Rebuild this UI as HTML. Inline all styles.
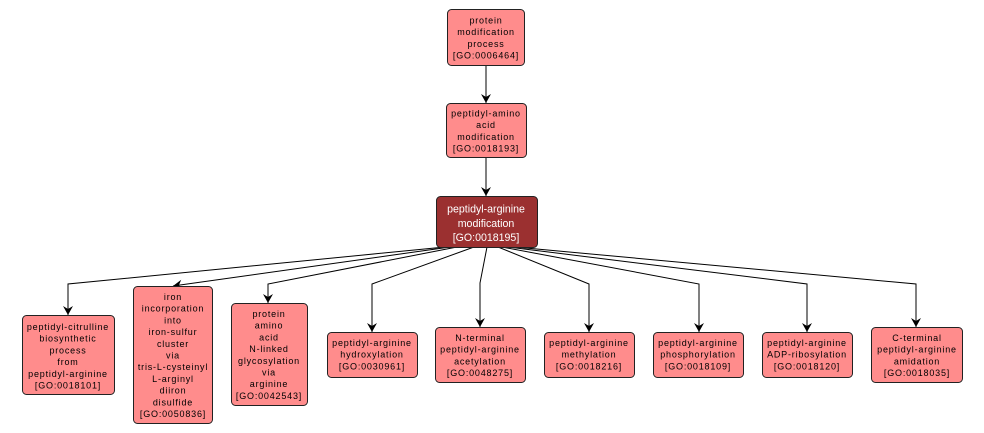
<!DOCTYPE html>
<html><head><meta charset="utf-8"><style>
html,body{margin:0;padding:0;background:#fff;}
svg{display:block;}
text{font-family:"Liberation Sans",Arial,sans-serif;}
.l{font-size:9px;letter-spacing:0.8px;fill:#000;text-anchor:middle;}
.d{font-size:10.6px;fill:#fff;text-anchor:middle;}
.n{fill:#ff8c8c;stroke:#222;stroke-width:1;}
.nd{fill:#9b3030;stroke:#222;stroke-width:1;}
.e{fill:none;stroke:#000;stroke-width:1;}
</style></head><body>
<svg width="984" height="433" viewBox="0 0 984 433" xmlns="http://www.w3.org/2000/svg">
<defs>
<marker id="a" markerUnits="userSpaceOnUse" markerWidth="12" markerHeight="12" refX="0" refY="0" viewBox="-10 -6 12 12" orient="auto">
<path d="M0,0 L-9,-5 L-6,0 L-9,5 Z" fill="#000"/>
</marker>
</defs>
<!-- edges -->
<polyline class="e" points="486,65 486,103" marker-end="url(#a)"/>
<polyline class="e" points="486,157 486,196" marker-end="url(#a)"/>
<polyline class="e" points="445,247 68,284 68,315" marker-end="url(#a)"/>
<polyline class="e" points="450,247 173,286" marker-end="url(#a)"/>
<polyline class="e" points="457,247 268,284 268,303" marker-end="url(#a)"/>
<polyline class="e" points="474,247 372,284 372,332" marker-end="url(#a)"/>
<polyline class="e" points="487,247 480,283 480,327" marker-end="url(#a)"/>
<polyline class="e" points="498,247 589,284 589,332" marker-end="url(#a)"/>
<polyline class="e" points="502,247 699,284 699,332" marker-end="url(#a)"/>
<polyline class="e" points="508,247 807,284 807,332" marker-end="url(#a)"/>
<polyline class="e" points="515,247 916,284 916,327" marker-end="url(#a)"/>

<!-- node 1 -->
<rect class="n" x="447.5" y="9.5" width="77" height="56" rx="4"/>
<text class="l" x="486" y="23.5">protein</text>
<text class="l" x="486" y="35.2">modification</text>
<text class="l" x="486" y="46.9">process</text>
<text class="l" x="486" y="58.6">[GO:0006464]</text>

<!-- node 2 -->
<rect class="n" x="446.5" y="103.5" width="80" height="54" rx="4"/>
<text class="l" x="486" y="116.5">peptidyl-amino</text>
<text class="l" x="486" y="128.2">acid</text>
<text class="l" x="486" y="139.9">modification</text>
<text class="l" x="486" y="151.6">[GO:0018193]</text>

<!-- node 3 -->
<rect class="nd" x="436.5" y="196.5" width="101" height="51" rx="4"/>
<text class="d" x="486" y="212.5">peptidyl-arginine</text>
<text class="d" x="486" y="226.8">modification</text>
<text class="d" x="486" y="241.1">[GO:0018195]</text>

<!-- A -->
<rect class="n" x="22.5" y="315.5" width="92" height="79" rx="4"/>
<text class="l" x="68" y="330">peptidyl-citrulline</text>
<text class="l" x="68" y="341.7">biosynthetic</text>
<text class="l" x="68" y="353.4">process</text>
<text class="l" x="68" y="365.1">from</text>
<text class="l" x="68" y="376.8">peptidyl-arginine</text>
<text class="l" x="68" y="388.5">[GO:0018101]</text>

<!-- B -->
<rect class="n" x="133.5" y="286.5" width="79" height="137" rx="4"/>
<text class="l" x="173" y="300">iron</text>
<text class="l" x="173" y="311.7">incorporation</text>
<text class="l" x="173" y="323.4">into</text>
<text class="l" x="173" y="335.1">iron-sulfur</text>
<text class="l" x="173" y="346.8">cluster</text>
<text class="l" x="173" y="358.5">via</text>
<text class="l" x="173" y="370.2">tris-L-cysteinyl</text>
<text class="l" x="173" y="381.9">L-arginyl</text>
<text class="l" x="173" y="393.6">diiron</text>
<text class="l" x="173" y="405.3">disulfide</text>
<text class="l" x="173" y="417">[GO:0050836]</text>

<!-- C -->
<rect class="n" x="231.5" y="303.5" width="76" height="102" rx="4"/>
<text class="l" x="269" y="317">protein</text>
<text class="l" x="269" y="328.7">amino</text>
<text class="l" x="269" y="340.4">acid</text>
<text class="l" x="269" y="352.1">N-linked</text>
<text class="l" x="269" y="363.8">glycosylation</text>
<text class="l" x="269" y="375.5">via</text>
<text class="l" x="269" y="387.2">arginine</text>
<text class="l" x="269" y="398.9">[GO:0042543]</text>

<!-- D -->
<rect class="n" x="327.5" y="332.5" width="90" height="45" rx="4"/>
<text class="l" x="372" y="346">peptidyl-arginine</text>
<text class="l" x="372" y="357.7">hydroxylation</text>
<text class="l" x="372" y="369.4">[GO:0030961]</text>

<!-- E -->
<rect class="n" x="435.5" y="327.5" width="90" height="55" rx="4"/>
<text class="l" x="480" y="341">N-terminal</text>
<text class="l" x="480" y="352.7">peptidyl-arginine</text>
<text class="l" x="480" y="364.4">acetylation</text>
<text class="l" x="480" y="376.1">[GO:0048275]</text>

<!-- F -->
<rect class="n" x="544.5" y="332.5" width="90" height="45" rx="4"/>
<text class="l" x="589" y="346">peptidyl-arginine</text>
<text class="l" x="589" y="357.7">methylation</text>
<text class="l" x="589" y="369.4">[GO:0018216]</text>

<!-- G -->
<rect class="n" x="653.5" y="332.5" width="90" height="45" rx="4"/>
<text class="l" x="698" y="346">peptidyl-arginine</text>
<text class="l" x="698" y="357.7">phosphorylation</text>
<text class="l" x="698" y="369.4">[GO:0018109]</text>

<!-- H -->
<rect class="n" x="762.5" y="332.5" width="90" height="45" rx="4"/>
<text class="l" x="807" y="346">peptidyl-arginine</text>
<text class="l" x="807" y="357.7">ADP-ribosylation</text>
<text class="l" x="807" y="369.4">[GO:0018120]</text>

<!-- I -->
<rect class="n" x="871.5" y="327.5" width="91" height="55" rx="4"/>
<text class="l" x="917" y="341">C-terminal</text>
<text class="l" x="917" y="352.7">peptidyl-arginine</text>
<text class="l" x="917" y="364.4">amidation</text>
<text class="l" x="917" y="376.1">[GO:0018035]</text>
</svg>
</body></html>
